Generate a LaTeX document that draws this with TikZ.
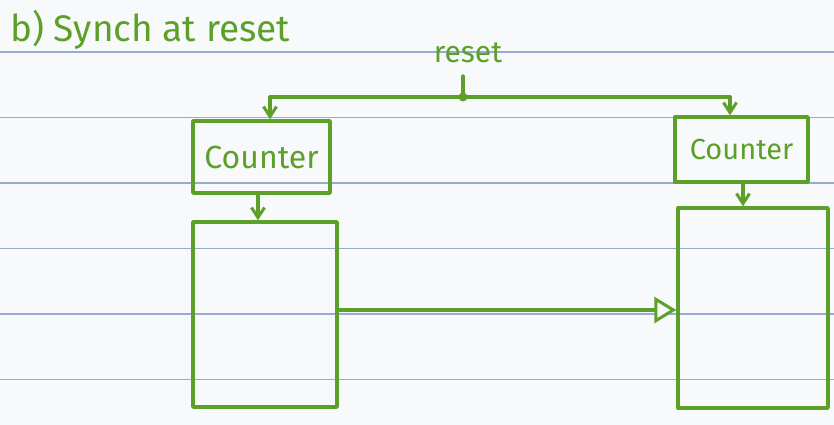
\documentclass[tikz,border=0pt]{standalone}
\usepackage{fontspec}
\setmainfont{Fira Sans}
\usetikzlibrary{arrows.meta}
\definecolor{ink}{RGB}{92,160,42}
\definecolor{rule}{RGB}{150,170,215}
\definecolor{paper}{RGB}{248,249,251}
\tikzset{
  pen/.style={draw=ink, line width=3.4pt, line join=round, line cap=round},
  blockbox/.style={pen, rectangle, inner sep=0pt, text=ink},
  arr/.style={pen, -{Straight Barb[length=10pt,width=13pt,line width=3pt]}},
  bigarr/.style={pen, -{Triangle[open,length=22pt,width=26pt,line width=3pt,fill=paper]}},
  ruled/.style={draw=rule, line width=1.6pt}
}
\begin{document}
\begin{tikzpicture}[x=1pt,y=-1pt]
\fill[paper] (0,0) rectangle (834,425);
\useasboundingbox (0,0) rectangle (834,425);
\foreach \yy in {52,117.5,183,248.5,314,379.5}
  \draw[ruled] (0,\yy) -- (834,\yy);
% title
\node[text=ink, font=\fontsize{37}{41}\selectfont, anchor=base west, inner sep=0pt] (title) at (10,42) {b) Synch at reset};
% reset
\node[text=ink, font=\fontsize{30}{34}\selectfont, anchor=base, inner sep=0pt] (rst) at (468,63) {reset};
\coordinate (rtop) at (463,76);
\coordinate (j) at (463,97);
\coordinate (lc) at (270,97);
\coordinate (rc) at (730,97);
% counters
\node[blockbox, font=\fontsize{32}{36}\selectfont, minimum width=137pt, minimum height=72pt] (c1) at (261.5,157) {Counter};
\node[blockbox, font=\fontsize{29}{33}\selectfont, minimum width=133pt, minimum height=65pt] (c2) at (741.5,149.5) {Counter};
% big boxes
\node[pen, rectangle, minimum width=144pt, minimum height=185pt, inner sep=0pt] (b1) at (265,314.5) {};
\node[pen, rectangle, minimum width=150pt, minimum height=200pt, inner sep=0pt] (b2) at (753,308) {};
% wires
\draw[pen] (rtop) -- (j);
\fill[ink] (j) circle (4.5pt);
\draw[pen] (lc) -- (rc);
\draw[arr] (lc) -- (lc |- c1.north);
\draw[arr] (rc) -- (rc |- c2.north);
\draw[arr] (c1.south -| 258,0) -- (258,0 |- b1.north);
\draw[arr] (c2.south -| 743,0) -- (743,0 |- b2.north);
\draw[bigarr] (b1.east |- 0,310) -- (b2.west |- 0,310);
\end{tikzpicture}
\end{document}
